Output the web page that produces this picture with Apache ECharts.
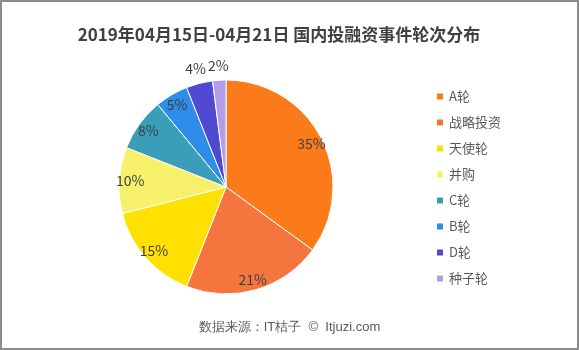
<!DOCTYPE html>
<html><head><meta charset="utf-8">
<script src="https://cdn.jsdelivr.net/npm/echarts@6/dist/echarts.min.js"></script>
<style>html,body{margin:0;padding:0;background:#fff}#c{width:579px;height:350px}</style>
</head><body><div id="c"></div>
<script>
const categories = ['A轮','战略投资','天使轮','并购','C轮','B轮','D轮','种子轮'];
const values = [35,21,15,10,8,5,4,2];
const colors = ['#FB7A1A','#F4763E','#FFE000','#F7F06A','#3A9EBB','#2E8DEA','#4F49D3','#B39CE8'];
const outsideLabels = ['D轮','种子轮'];

const chart = echarts.init(document.getElementById('c'));
const font = '"Noto Sans CJK SC", "Microsoft YaHei", sans-serif';
const mainData = categories.map((n,i)=>({name:n,value:values[i],itemStyle:{color:colors[i]}}));
const innerLabelData = categories.map((n,i)=>({name:n,value:values[i],label:{show:outsideLabels.indexOf(n)<0}}));
const outerLabelData = categories.map((n,i)=>({name:n,value:values[i],label:{show:outsideLabels.indexOf(n)>=0}}));
const labelStyle = {position:'inside',formatter:'{c}%',fontSize:14,color:'#404040',fontFamily:font};
const ghost = {color:'transparent',borderWidth:0};
chart.setOption({
  animation:false,
  textStyle:{fontFamily:font},
  title:{text:'2019年04月15日-04月21日 国内投融资事件轮次分布',left:274,textAlign:'center',top:21,
    textStyle:{fontSize:17,fontWeight:'bold',color:'#404040',fontFamily:font}},
  legend:{orient:'vertical',left:430,top:85,data:categories,itemWidth:8,itemHeight:8,itemGap:13,icon:'rect',
    textStyle:{fontSize:13,color:'#595959',fontFamily:font}},
  graphic:[
    {type:'text',left:'center',top:321,style:{text:'数据来源：IT桔子  ©  Itjuzi.com',fontSize:13,fill:'#595959',font:'13px '+font},z:10},
    {type:'rect',shape:{x:1,y:1,width:577,height:348},style:{fill:'none',stroke:'#8c8c8c',lineWidth:2},z:100,silent:true}
  ],
  series:[
    {type:'pie',center:[226,187],radius:107,startAngle:90,clockwise:true,data:mainData,
      label:{show:false},labelLine:{show:false},itemStyle:{borderColor:'#fff',borderWidth:1},silent:true},
    {type:'pie',center:[226,187],radius:[79,107],startAngle:90,clockwise:true,data:innerLabelData,
      label:labelStyle,labelLine:{show:false},itemStyle:ghost,silent:true,z:5},
    {type:'pie',center:[226,187],radius:[107,131],startAngle:90,clockwise:true,data:outerLabelData,
      label:labelStyle,labelLine:{show:false},itemStyle:ghost,silent:true,z:5}
  ]
});
</script></body></html>
